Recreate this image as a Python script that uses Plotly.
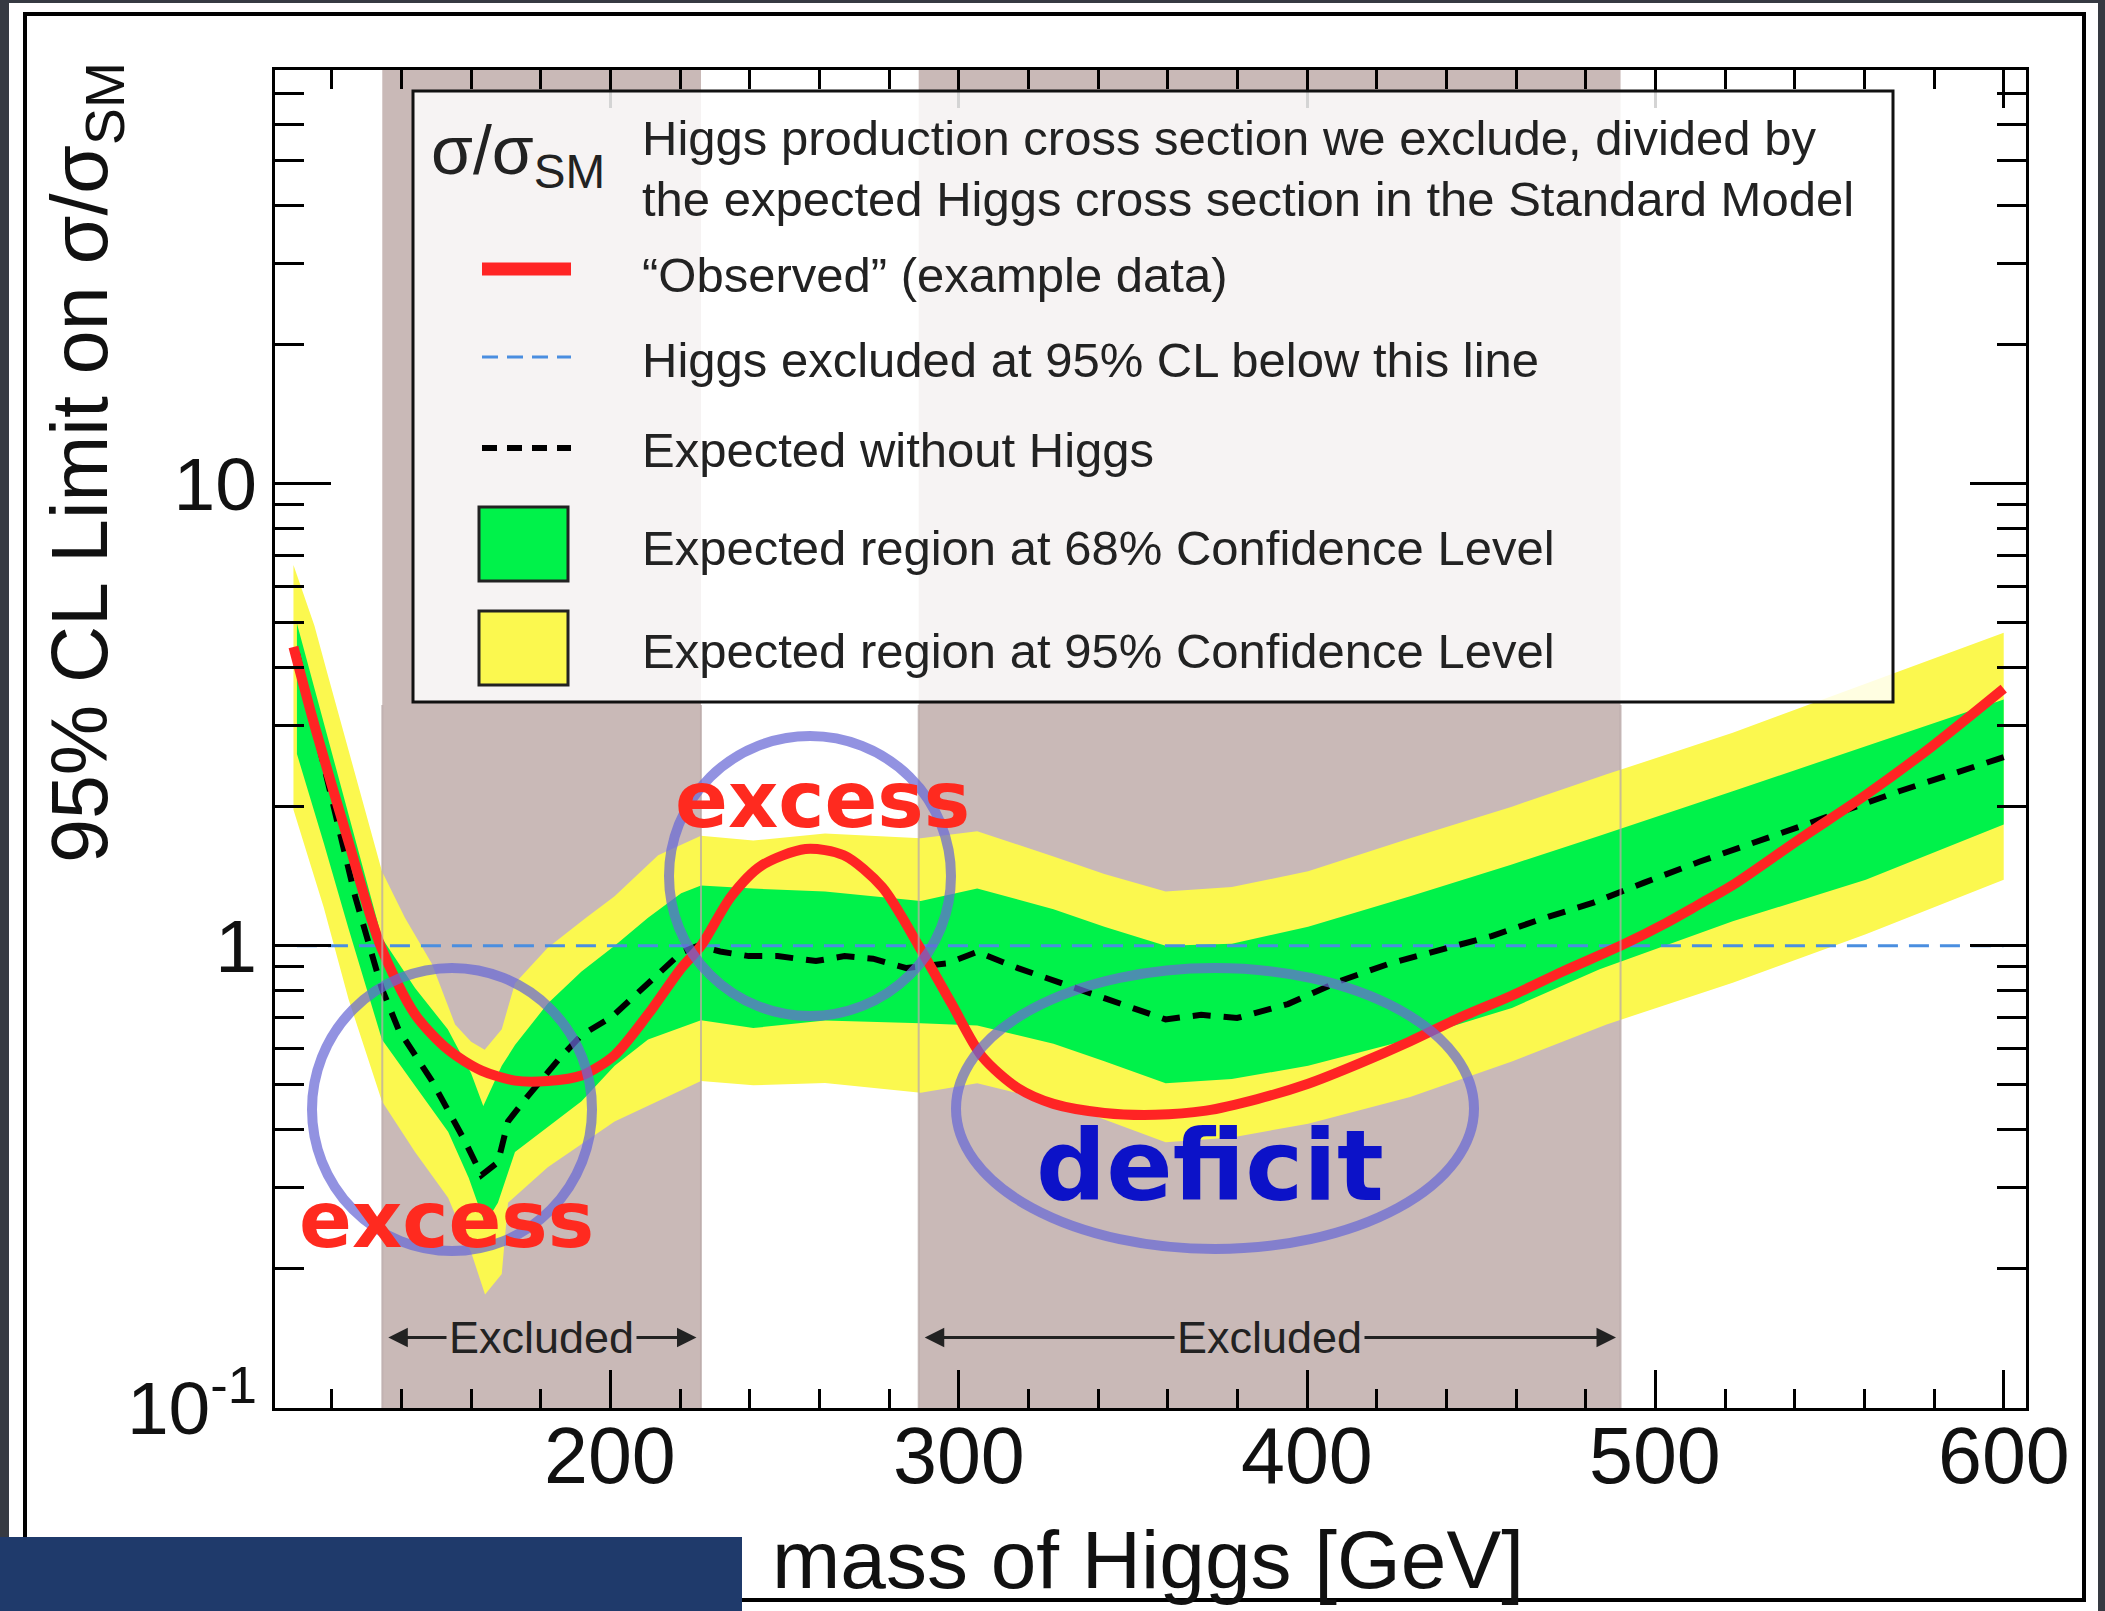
import math
import plotly.graph_objects as go

# ---------------- data ----------------
observed_mass = [109, 115.3, 124.8, 134, 143.9, 153.4, 163, 172.6, 182, 191.7,
                 201.2, 210.8, 220.3, 226, 234.7, 243.3, 256, 267, 278, 288.5,
                 298, 306.8, 317, 327.2, 341.8, 356.4, 371, 385.7, 400.3, 414.9,
                 429.5, 444, 458.7, 473.4, 490, 503, 512.6, 522, 541.3, 560.4,
                 579.4, 600]
observed_limit = [4.43, 2.95, 1.68, 1.0, 0.711, 0.596, 0.537, 0.511, 0.51, 0.524,
                  0.58, 0.711, 0.894, 1.0, 1.28, 1.49, 1.62, 1.57, 1.34, 1.0,
                  0.748, 0.575, 0.492, 0.455, 0.435, 0.431, 0.44, 0.466, 0.503, 0.556,
                  0.621, 0.70, 0.78, 0.88, 1.0, 1.12, 1.23, 1.35, 1.70, 2.12,
                  2.70, 3.6]

expected_mass = [110, 117, 126.7, 134.4, 139.2, 148.7, 158.3, 163, 167.7, 170.6,
                 176.3, 185, 191.7, 200.3, 210.8, 220.3, 225, 231.5, 239.7, 248,
                 259, 267.2, 275.4, 285, 296.6, 305.3, 317, 331.6, 346.3, 359.4,
                 369.6, 379.9, 394.5, 409.2, 423.8, 438.4, 453, 467.6, 482.2, 496.8,
                 512.6, 541.3, 570, 600]
expected_limit = [4.3, 2.6, 1.28, 0.807, 0.658, 0.511, 0.377, 0.319, 0.34, 0.417,
                  0.473, 0.566, 0.641, 0.701, 0.828, 0.966, 1.0, 0.972, 0.95, 0.95,
                  0.927, 0.95, 0.938, 0.895, 0.916, 0.97, 0.895, 0.818, 0.748, 0.693,
                  0.709, 0.698, 0.748, 0.838, 0.916, 0.98, 1.05, 1.145, 1.24, 1.37,
                  1.52, 1.81, 2.16, 2.56]

band68_mass_upper = [110, 117.7, 124.6, 130, 134.4, 143.9, 153.3, 160, 163.5, 168.8,
                     172.6, 182, 191.7, 201.2, 210.8, 220.3, 226, 241, 261.6, 289.1,
                     305.3, 327.2, 341.8, 359.4, 378.4, 400.3, 429.6, 458.8, 484, 522.2,
                     560.4, 600]
band68_upper = [4.98, 3.04, 1.96, 1.38, 1.04, 0.81, 0.66, 0.53, 0.45, 0.55,
                0.61, 0.75, 0.88, 1.0, 1.15, 1.3, 1.35, 1.33, 1.31, 1.25,
                1.33, 1.20, 1.10, 1.0, 1.01, 1.10, 1.28, 1.50, 1.73, 2.16,
                2.70, 3.41]
band68_mass_lower = [110, 117.7, 124.8, 134.4, 143.9, 153.4, 159.3, 164, 167.7, 172.6,
                     182, 191.7, 201.2, 210.8, 226, 241, 261.6, 289.1, 305.3, 327.2,
                     341.8, 359.4, 378.4, 400.3, 429.6, 458.8, 484, 522.2, 560.4, 600]
band68_lower = [2.6, 1.67, 1.09, 0.627, 0.498, 0.396, 0.315, 0.25, 0.278, 0.358,
                0.406, 0.461, 0.55, 0.627, 0.69, 0.664, 0.689, 0.68, 0.672, 0.614,
                0.563, 0.504, 0.515, 0.55, 0.628, 0.734, 0.89, 1.13, 1.39, 1.83]

band95_mass_upper = [109, 115, 119, 124.6, 130, 134.4, 141, 148.7, 155.4, 160,
                     163.9, 168.8, 172.6, 182, 193, 201.2, 213.7, 226, 241, 261.6,
                     289.1, 305.3, 327.2, 341.8, 359.4, 378.4, 400.3, 429.6, 458.8, 486,
                     522.2, 560.4, 600]
band95_upper = [6.67, 4.93, 3.82, 2.68, 1.91, 1.45, 1.15, 0.916, 0.676, 0.62,
                0.596, 0.66, 0.83, 0.99, 1.15, 1.28, 1.57, 1.73, 1.69, 1.75,
                1.71, 1.77, 1.56, 1.43, 1.31, 1.34, 1.45, 1.71, 2.0, 2.35,
                2.89, 3.69, 4.76]
band95_mass_lower = [109, 117.7, 124.8, 134.4, 143.9, 153.4, 160.2, 164, 168.8, 170.6,
                     182, 201.2, 226, 241, 261.6, 289.1, 305.3, 327.2, 341.8, 359.4,
                     378.4, 400.3, 429.6, 458.8, 486, 522.2, 560.4, 600]
band95_lower = [1.97, 1.21, 0.767, 0.461, 0.358, 0.285, 0.215, 0.176, 0.195, 0.278,
                0.332, 0.417, 0.51, 0.499, 0.505, 0.481, 0.504, 0.46, 0.421, 0.376,
                0.385, 0.412, 0.471, 0.562, 0.676, 0.832, 1.06, 1.39]

limit_line_mass = [110, 600]
limit_line_value = [1, 1]

excluded_ranges = [(134.5, 226.0), (288.5, 490.0)]
excluded_label = "Excluded"
excluded_label_value = 0.142

x_tick_values = [200, 300, 400, 500, 600]
x_tick_text = ["200", "300", "400", "500", "600"]
x_minor_values = [120, 140, 160, 180, 220, 240, 260, 280, 320, 340, 360, 380,
                  420, 440, 460, 480, 520, 540, 560, 580]
y_tick_values = [0.1, 1, 10]
y_tick_text = ["10<sup>-1</sup>", "1", "10"]
y_minor_values = [0.2, 0.3, 0.4, 0.5, 0.6, 0.7, 0.8, 0.9,
                  2, 3, 4, 5, 6, 7, 8, 9, 20, 30, 40, 50, 60, 70]

x_title = "mass of Higgs [GeV]"
y_title = "95% CL Limit on σ/σ<sub>SM</sub>"

legend_header_symbol = "σ/σ<sub>SM</sub>"
legend_header_lines = ["Higgs production cross section we exclude, divided by",
                       "the expected Higgs cross section in the Standard Model"]
legend_labels = ["“Observed” (example data)",
                 "Higgs excluded at 95% CL below this line",
                 "Expected without Higgs",
                 "Expected region at 68% Confidence Level",
                 "Expected region at 95% Confidence Level"]

notes = ["excess", "excess", "deficit"]

# ---------------- styling / geometry ----------------
W, H = 2105, 1611
ML, MR, MT, MB = 275, 79, 70, 203
PW = W - ML - MR
PH = H - MT - MB
FONT = "Liberation Sans, Arial, Helvetica, sans-serif"
HAND = "DejaVu Sans, sans-serif"

BROWN = "#c9b9b7"
YELLOW = "#fbf84f"
GREEN = "#00f24a"
RED = "#ff2424"
BLUE = "#4a8ee0"
RING = "rgba(104,104,214,0.72)"


def px(xp):
    return (xp - ML) / PW


def py(yp):
    return (H - MB - yp) / PH


fig = go.Figure()


def band(xu, yu, xl, yl, color):
    fig.add_trace(go.Scatter(
        x=list(xu) + list(xl)[::-1], y=list(yu) + list(yl)[::-1],
        mode="lines", fill="toself", fillcolor=color,
        line=dict(width=0, color=color), hoverinfo="skip", showlegend=False))


band(band95_mass_upper, band95_upper, band95_mass_lower, band95_lower, YELLOW)
band(band68_mass_upper, band68_upper, band68_mass_lower, band68_lower, GREEN)

fig.add_trace(go.Scatter(x=limit_line_mass, y=limit_line_value, mode="lines",
                         line=dict(color=BLUE, width=3, dash="20px,11px"),
                         hoverinfo="skip", showlegend=False))
fig.add_trace(go.Scatter(x=expected_mass, y=expected_limit, mode="lines",
                         line=dict(color="black", width=6, dash="18px,13px"),
                         hoverinfo="skip", showlegend=False))
fig.add_trace(go.Scatter(x=observed_mass, y=observed_limit, mode="lines",
                         line=dict(color=RED, width=10, shape="spline", smoothing=0.8),
                         hoverinfo="skip", showlegend=False))

shapes = []
# page background card and frame
shapes.append(dict(type="rect", xref="paper", yref="paper", layer="below",
                   x0=px(9), x1=px(2098), y0=py(3), y1=py(1611),
                   fillcolor="white", line=dict(width=0)))
shapes.append(dict(type="rect", xref="paper", yref="paper", layer="below",
                   x0=px(25), x1=px(2084), y0=py(14), y1=py(1600),
                   fillcolor="rgba(0,0,0,0)", line=dict(width=4, color="black")))
# excluded regions
for a, b in excluded_ranges:
    shapes.append(dict(type="rect", xref="x", yref="paper", layer="below",
                       x0=a, x1=b, y0=0, y1=1, fillcolor=BROWN, line=dict(width=0)))
# faint edges of the excluded regions over the bands
for a, b in excluded_ranges:
    for e in (a, b):
        shapes.append(dict(type="line", xref="x", yref="paper", layer="above",
                           x0=e, x1=e, y0=0, y1=py(705),
                           line=dict(width=2, color="rgba(185,170,168,0.75)")))
# hand drawn rings
shapes.append(dict(type="circle", xref="paper", yref="paper", layer="above",
                   x0=px(312), x1=px(592), y0=py(1251), y1=py(968),
                   line=dict(width=10, color=RING)))
shapes.append(dict(type="circle", xref="paper", yref="paper", layer="above",
                   x0=px(669), x1=px(951), y0=py(1016), y1=py(736),
                   line=dict(width=10, color=RING)))
shapes.append(dict(type="circle", xref="paper", yref="paper", layer="above",
                   x0=px(956), x1=px(1474), y0=py(1249), y1=py(968),
                   line=dict(width=10, color=RING)))
# legend box
shapes.append(dict(type="rect", xref="paper", yref="paper", layer="above",
                   x0=px(413), x1=px(1893), y0=py(702), y1=py(91),
                   fillcolor="rgba(255,255,255,0.83)", line=dict(width=3, color="#111")))
# legend samples
shapes.append(dict(type="line", xref="paper", yref="paper", layer="above",
                   x0=px(482), x1=px(571), y0=py(269), y1=py(269),
                   line=dict(width=13, color=RED)))
shapes.append(dict(type="line", xref="paper", yref="paper", layer="above",
                   x0=px(482), x1=px(571), y0=py(357), y1=py(357),
                   line=dict(width=3, color=BLUE, dash="16px,9px")))
shapes.append(dict(type="line", xref="paper", yref="paper", layer="above",
                   x0=px(482), x1=px(571), y0=py(448), y1=py(448),
                   line=dict(width=6, color="black", dash="15px,10px")))
shapes.append(dict(type="rect", xref="paper", yref="paper", layer="above",
                   x0=px(479), x1=px(568), y0=py(581), y1=py(507),
                   fillcolor=GREEN, line=dict(width=3, color="#222")))
shapes.append(dict(type="rect", xref="paper", yref="paper", layer="above",
                   x0=px(479), x1=px(568), y0=py(685), y1=py(611),
                   fillcolor=YELLOW, line=dict(width=3, color="#222")))
# dark blue block bottom-left
shapes.append(dict(type="rect", xref="paper", yref="paper", layer="above",
                   x0=px(0), x1=px(742), y0=py(1611), y1=py(1537),
                   fillcolor="#1f3a6b", line=dict(width=0)))

ann = []
# excluded arrows and labels
ly = math.log10(excluded_label_value)
for a, b in excluded_ranges:
    ann.append(dict(x=b - 1.3, y=ly, ax=a + 1.3, ay=ly, xref="x", yref="y",
                    axref="x", ayref="y", text="", showarrow=True,
                    arrowside="end+start", arrowhead=2, arrowsize=1.3,
                    arrowwidth=3, arrowcolor="#222"))
    ann.append(dict(x=(a + b) / 2, y=ly, xref="x", yref="y", text=excluded_label,
                    showarrow=False, bgcolor=BROWN, borderpad=2,
                    font=dict(family=FONT, size=45, color="#222")))

# x tick labels placed on the x scale
for v, t in zip(x_tick_values, x_tick_text):
    ann.append(dict(x=v, y=py(1455), xref="x", yref="paper", text=t,
                    showarrow=False, xanchor="center", yanchor="middle",
                    font=dict(family=FONT, size=79, color="#111")))

# axis titles
ann.append(dict(x=px(1148), y=py(1559), xref="paper", yref="paper", text=x_title,
                showarrow=False, xanchor="center", yanchor="middle",
                font=dict(family=FONT, size=82, color="#111")))
ann.append(dict(x=px(86), y=py(463), xref="paper", yref="paper", text=y_title,
                showarrow=False, textangle=-90, xanchor="center", yanchor="middle",
                font=dict(family=FONT, size=79, color="#111")))

# legend text
ann.append(dict(x=px(429), y=py(155), xref="paper", yref="paper",
                text=legend_header_symbol, showarrow=False, xanchor="left",
                yanchor="middle", font=dict(family=FONT, size=68, color="#222")))
for txt, yc in zip(legend_header_lines, [138, 199]):
    ann.append(dict(x=px(640), y=py(yc), xref="paper", yref="paper", text=txt,
                    showarrow=False, xanchor="left", yanchor="middle",
                    font=dict(family=FONT, size=49, color="#222")))
for txt, yc in zip(legend_labels, [275, 360, 450, 548, 651]):
    ann.append(dict(x=px(640), y=py(yc), xref="paper", yref="paper", text=txt,
                    showarrow=False, xanchor="left", yanchor="middle",
                    font=dict(family=FONT, size=49, color="#222")))

# hand written notes
for txt, (cx, cy), col, size in zip(notes, [(822, 800), (446, 1220), (1210, 1166)],
                                    ["#ff2a1f", "#ff2a1f", "#0c12c8"], [78, 78, 98]):
    ann.append(dict(x=px(cx), y=py(cy), xref="paper", yref="paper",
                    text="<b>" + txt + "</b>", showarrow=False,
                    xanchor="center", yanchor="middle",
                    font=dict(family=HAND, size=size, color=col)))

fig.update_xaxes(range=[103.7, 606.4], tickmode="array", tickvals=x_tick_values,
                 showticklabels=False,
                 ticks="inside", ticklen=38, tickwidth=3, tickcolor="black",
                 showline=True, linewidth=3, linecolor="black", mirror="allticks",
                 showgrid=False, zeroline=False,
                 minor=dict(tickmode="array", tickvals=x_minor_values, ticks="inside",
                            ticklen=19, tickwidth=2.5, tickcolor="black", showgrid=False))
fig.update_yaxes(type="log", range=[-1, 1.895], tickmode="array", tickvals=y_tick_values,
                 ticktext=y_tick_text, ticks="inside", ticklen=56, tickwidth=3,
                 tickcolor="black", showline=True, linewidth=3, linecolor="black",
                 mirror="allticks", showgrid=False, zeroline=False, ticklabelstandoff=0,
                 tickfont=dict(family=FONT, size=75, color="#111"),
                 minor=dict(tickmode="array", tickvals=y_minor_values, ticks="inside",
                            ticklen=29, tickwidth=2.5, tickcolor="black", showgrid=False))

fig.update_layout(width=W, height=H, autosize=False,
                  margin=dict(l=ML, r=MR, t=MT, b=MB, pad=0),
                  paper_bgcolor="#363a42", plot_bgcolor="white",
                  showlegend=False, shapes=shapes, annotations=ann)

fig.write_html("out.html")
